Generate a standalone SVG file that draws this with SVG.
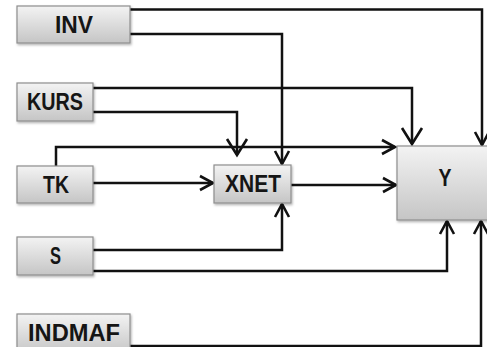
<svg xmlns="http://www.w3.org/2000/svg" width="487" height="347" viewBox="0 0 487 347">
<style>
.box{fill:url(#g);stroke:#8e8e8e;stroke-width:1.2;filter:url(#sh)}
.lbl{font-family:"Liberation Sans",Arial,sans-serif;font-weight:bold;font-size:23px;fill:#151515;text-anchor:middle}
.c{fill:none;stroke:#111;stroke-width:2.5;stroke-linejoin:miter}
</style>
<defs>
<linearGradient id="g" x1="0" y1="0" x2="0" y2="1">
<stop offset="0" stop-color="#f3f3f3"/>
<stop offset="1" stop-color="#c5c5c5"/>
</linearGradient>
<filter id="sh" x="-10%" y="-10%" width="130%" height="140%">
<feDropShadow dx="1" dy="1.5" stdDeviation="1" flood-color="#000" flood-opacity="0.3"/>
</filter>
<marker id="a" markerUnits="userSpaceOnUse" markerWidth="20" markerHeight="20" refX="14" refY="8" orient="auto" overflow="visible">
<path d="M1 1 L14 8 L1 15" fill="none" stroke="#111" stroke-width="2.6"/>
</marker>
<marker id="b" markerUnits="userSpaceOnUse" markerWidth="24" markerHeight="24" refX="17" refY="11" orient="auto" overflow="visible">
<path d="M1 1 L17 11 L1 21" fill="none" stroke="#111" stroke-width="2.6"/>
</marker>
</defs>
<g id="connectors">
<path class="c" d="M130 9.5 H482 V145" marker-end="url(#a)"/>
<path class="c" d="M130 34 H282 V164" marker-end="url(#a)"/>
<path class="c" d="M93 88 H412 V144" marker-end="url(#b)"/>
<path class="c" d="M93 112 H237 V155" marker-end="url(#b)"/>
<path class="c" d="M56 166 V147 H395" marker-end="url(#a)"/>
<path class="c" d="M93 183 H213" marker-end="url(#a)"/>
<path class="c" d="M291 185 H396" marker-end="url(#a)"/>
<path class="c" d="M93 250 H282 V204" marker-end="url(#a)"/>
<path class="c" d="M93 271 H447 V221" marker-end="url(#a)"/>
<path class="c" d="M130 346 H481 V221" marker-end="url(#a)"/>
</g>
<g id="INV"><rect class="box" x="17" y="6" width="113" height="37"/><text class="lbl" x="74" y="32.5" textLength="38" lengthAdjust="spacingAndGlyphs">INV</text></g>
<g id="KURS"><rect class="box" x="17" y="83" width="76" height="38"/><text class="lbl" x="55" y="110" textLength="56" lengthAdjust="spacingAndGlyphs">KURS</text></g>
<g id="TK"><rect class="box" x="17" y="166" width="76" height="37"/><text class="lbl" x="56" y="192.5" textLength="26" lengthAdjust="spacingAndGlyphs">TK</text></g>
<g id="S"><rect class="box" x="17" y="237" width="76" height="38"/><text class="lbl" x="55.5" y="264" textLength="11" lengthAdjust="spacingAndGlyphs">S</text></g>
<g id="INDMAF"><rect class="box" x="17" y="314" width="113" height="40"/><text class="lbl" x="74" y="341" textLength="92" lengthAdjust="spacingAndGlyphs">INDMAF</text></g>
<g id="XNET"><rect class="box" x="214" y="165" width="77" height="38"/><text class="lbl" x="253" y="191.5" textLength="56" lengthAdjust="spacingAndGlyphs">XNET</text></g>
<g id="Y"><rect class="box" x="397" y="146" width="96" height="74"/><text class="lbl" x="445" y="186" textLength="13" lengthAdjust="spacingAndGlyphs">Y</text></g>
</svg>
